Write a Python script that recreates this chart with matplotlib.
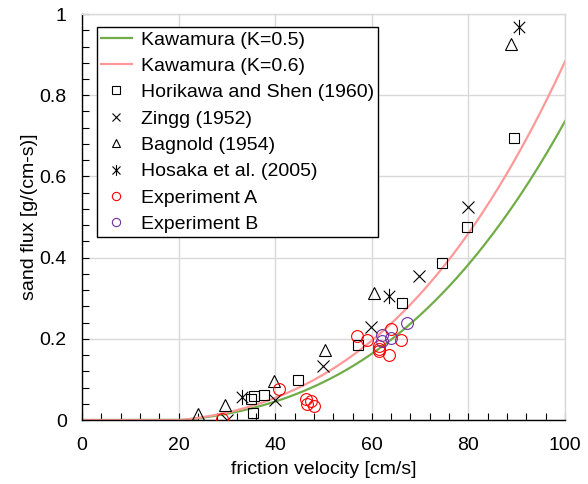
import numpy as np
import matplotlib
matplotlib.use("Agg")
from matplotlib import pyplot as plt
from matplotlib.path import Path
from matplotlib.ticker import MultipleLocator

plt.rcParams['font.family'] = ['Liberation Sans', 'DejaVu Sans']

# Kawamura model: q = K * rho/g * (u - ut) * (u + ut)^2
K_values = [0.5, 0.6]
K_colors = ['#70AD47', '#FF9999']
u_threshold = 20.5      # cm/s
rho_air = 1.25e-3       # g/cm^3
gravity = 980.0         # cm/s^2

# Horikawa and Shen (1960)
horikawa_u = [35.4, 34.9, 35.7, 37.6, 44.8, 57.1, 66.2, 74.5, 79.8, 89.4]
horikawa_q = [0.017, 0.051, 0.059, 0.061, 0.098, 0.186, 0.289, 0.387, 0.476, 0.695]

# Zingg (1952)
zingg_u = [30.0, 39.9, 49.9, 59.8, 69.8, 80.0]
zingg_q = [0.0, 0.049, 0.133, 0.228, 0.355, 0.525]

# Bagnold (1954)
bagnold_u = [24.1, 29.7, 39.7, 50.4, 60.4, 88.8]
bagnold_q = [0.014, 0.037, 0.096, 0.172, 0.312, 0.925]

# Hosaka et al. (2005)
hosaka_u = [33.1, 63.6, 90.5]
hosaka_q = [0.056, 0.306, 0.967]

# Experiment A
exp_a_u = [28.9, 40.8, 46.3, 47.3, 46.5, 48.0, 57.0, 58.9, 61.5, 61.5, 61.4, 63.5, 64.0, 66.1]
exp_a_q = [0.002, 0.077, 0.052, 0.047, 0.039, 0.035, 0.207, 0.197, 0.183, 0.170, 0.176, 0.160, 0.223, 0.197]

# Experiment B
exp_b_u = [62.2, 62.0, 64.0, 67.2]
exp_b_q = [0.209, 0.195, 0.203, 0.240]

# Excel-style asterisk: an x with a vertical bar
asterisk = Path([(0, -1), (0, 1), (-0.75, -0.75), (0.75, 0.75), (-0.75, 0.75), (0.75, -0.75)],
                [Path.MOVETO, Path.LINETO] * 3)

fig = plt.figure(figsize=(5.88, 4.84), dpi=100)
ax = fig.add_axes([0.1395, 0.1322, 0.8215, 0.8388])

u = np.linspace(0, 100, 401)
for K, col in zip(K_values, K_colors):
    q = K * rho_air / gravity * np.clip(u - u_threshold, 0, None) * (u + u_threshold) ** 2
    ax.plot(u, q, color=col, lw=1.6, label=f'Kawamura (K={K})', zorder=2)

common = dict(ls='none', mfc='none', mew=0.8, zorder=3)
ax.plot(horikawa_u, horikawa_q, marker='s', ms=7.5, mec='black', label='Horikawa and Shen (1960)', **common)
ax.plot(zingg_u, zingg_q, marker='x', ms=9, mec='black', label='Zingg (1952)', **common)
ax.plot(bagnold_u, bagnold_q, marker='^', ms=8, mec='black', label='Bagnold (1954)', **common)
ax.plot(hosaka_u, hosaka_q, marker=asterisk, ms=11, mec='black', label='Hosaka et al. (2005)', **common)
ax.plot(exp_a_u, exp_a_q, marker='o', ms=8.5, mec='#FF0000', label='Experiment A', **common)
ax.plot(exp_b_u, exp_b_q, marker='o', ms=8.5, mec='#7030A0', label='Experiment B', **common)

ax.set_xlim(0, 100)
ax.set_ylim(0, 1)
ax.xaxis.set_major_locator(MultipleLocator(20))
ax.xaxis.set_minor_locator(MultipleLocator(4))
ax.yaxis.set_major_locator(MultipleLocator(0.2))
ax.yaxis.set_minor_locator(MultipleLocator(0.04))
ax.set_yticks([0, 0.2, 0.4, 0.6, 0.8, 1.0])
ax.set_yticklabels(['0', '0.2', '0.4', '0.6', '0.8', '1'])

ax.tick_params(which='both', direction='in', color='black', width=0.8, labelsize=14)
ax.tick_params(which='major', length=5)
ax.tick_params(which='minor', length=5)
ax.tick_params(axis='x', which='major', pad=12)
ax.tick_params(axis='y', which='major', pad=11)

ax.grid(True, which='major', color='#D9D9D9', lw=1)
ax.set_axisbelow(True)
for side in ['left', 'bottom']:
    ax.spines[side].set_color('black')
    ax.spines[side].set_linewidth(1)
for side in ['top', 'right']:
    ax.spines[side].set_color('#D9D9D9')
    ax.spines[side].set_linewidth(1)

ax.set_xlabel('friction velocity [cm/s]', fontsize=14, labelpad=5)
ax.set_ylabel('sand flux [g/(cm-s)]', fontsize=14, labelpad=1)

leg = ax.legend(loc='upper left', bbox_to_anchor=(0.031, 0.968), borderaxespad=0,
                fontsize=14, frameon=True, fancybox=False, framealpha=1,
                edgecolor='black', markerscale=0.7, handlelength=1.6,
                handletextpad=0.45, labelspacing=0.45, borderpad=0.2)
leg.get_frame().set_linewidth(1)

fig.savefig('out.png', dpi=100)
